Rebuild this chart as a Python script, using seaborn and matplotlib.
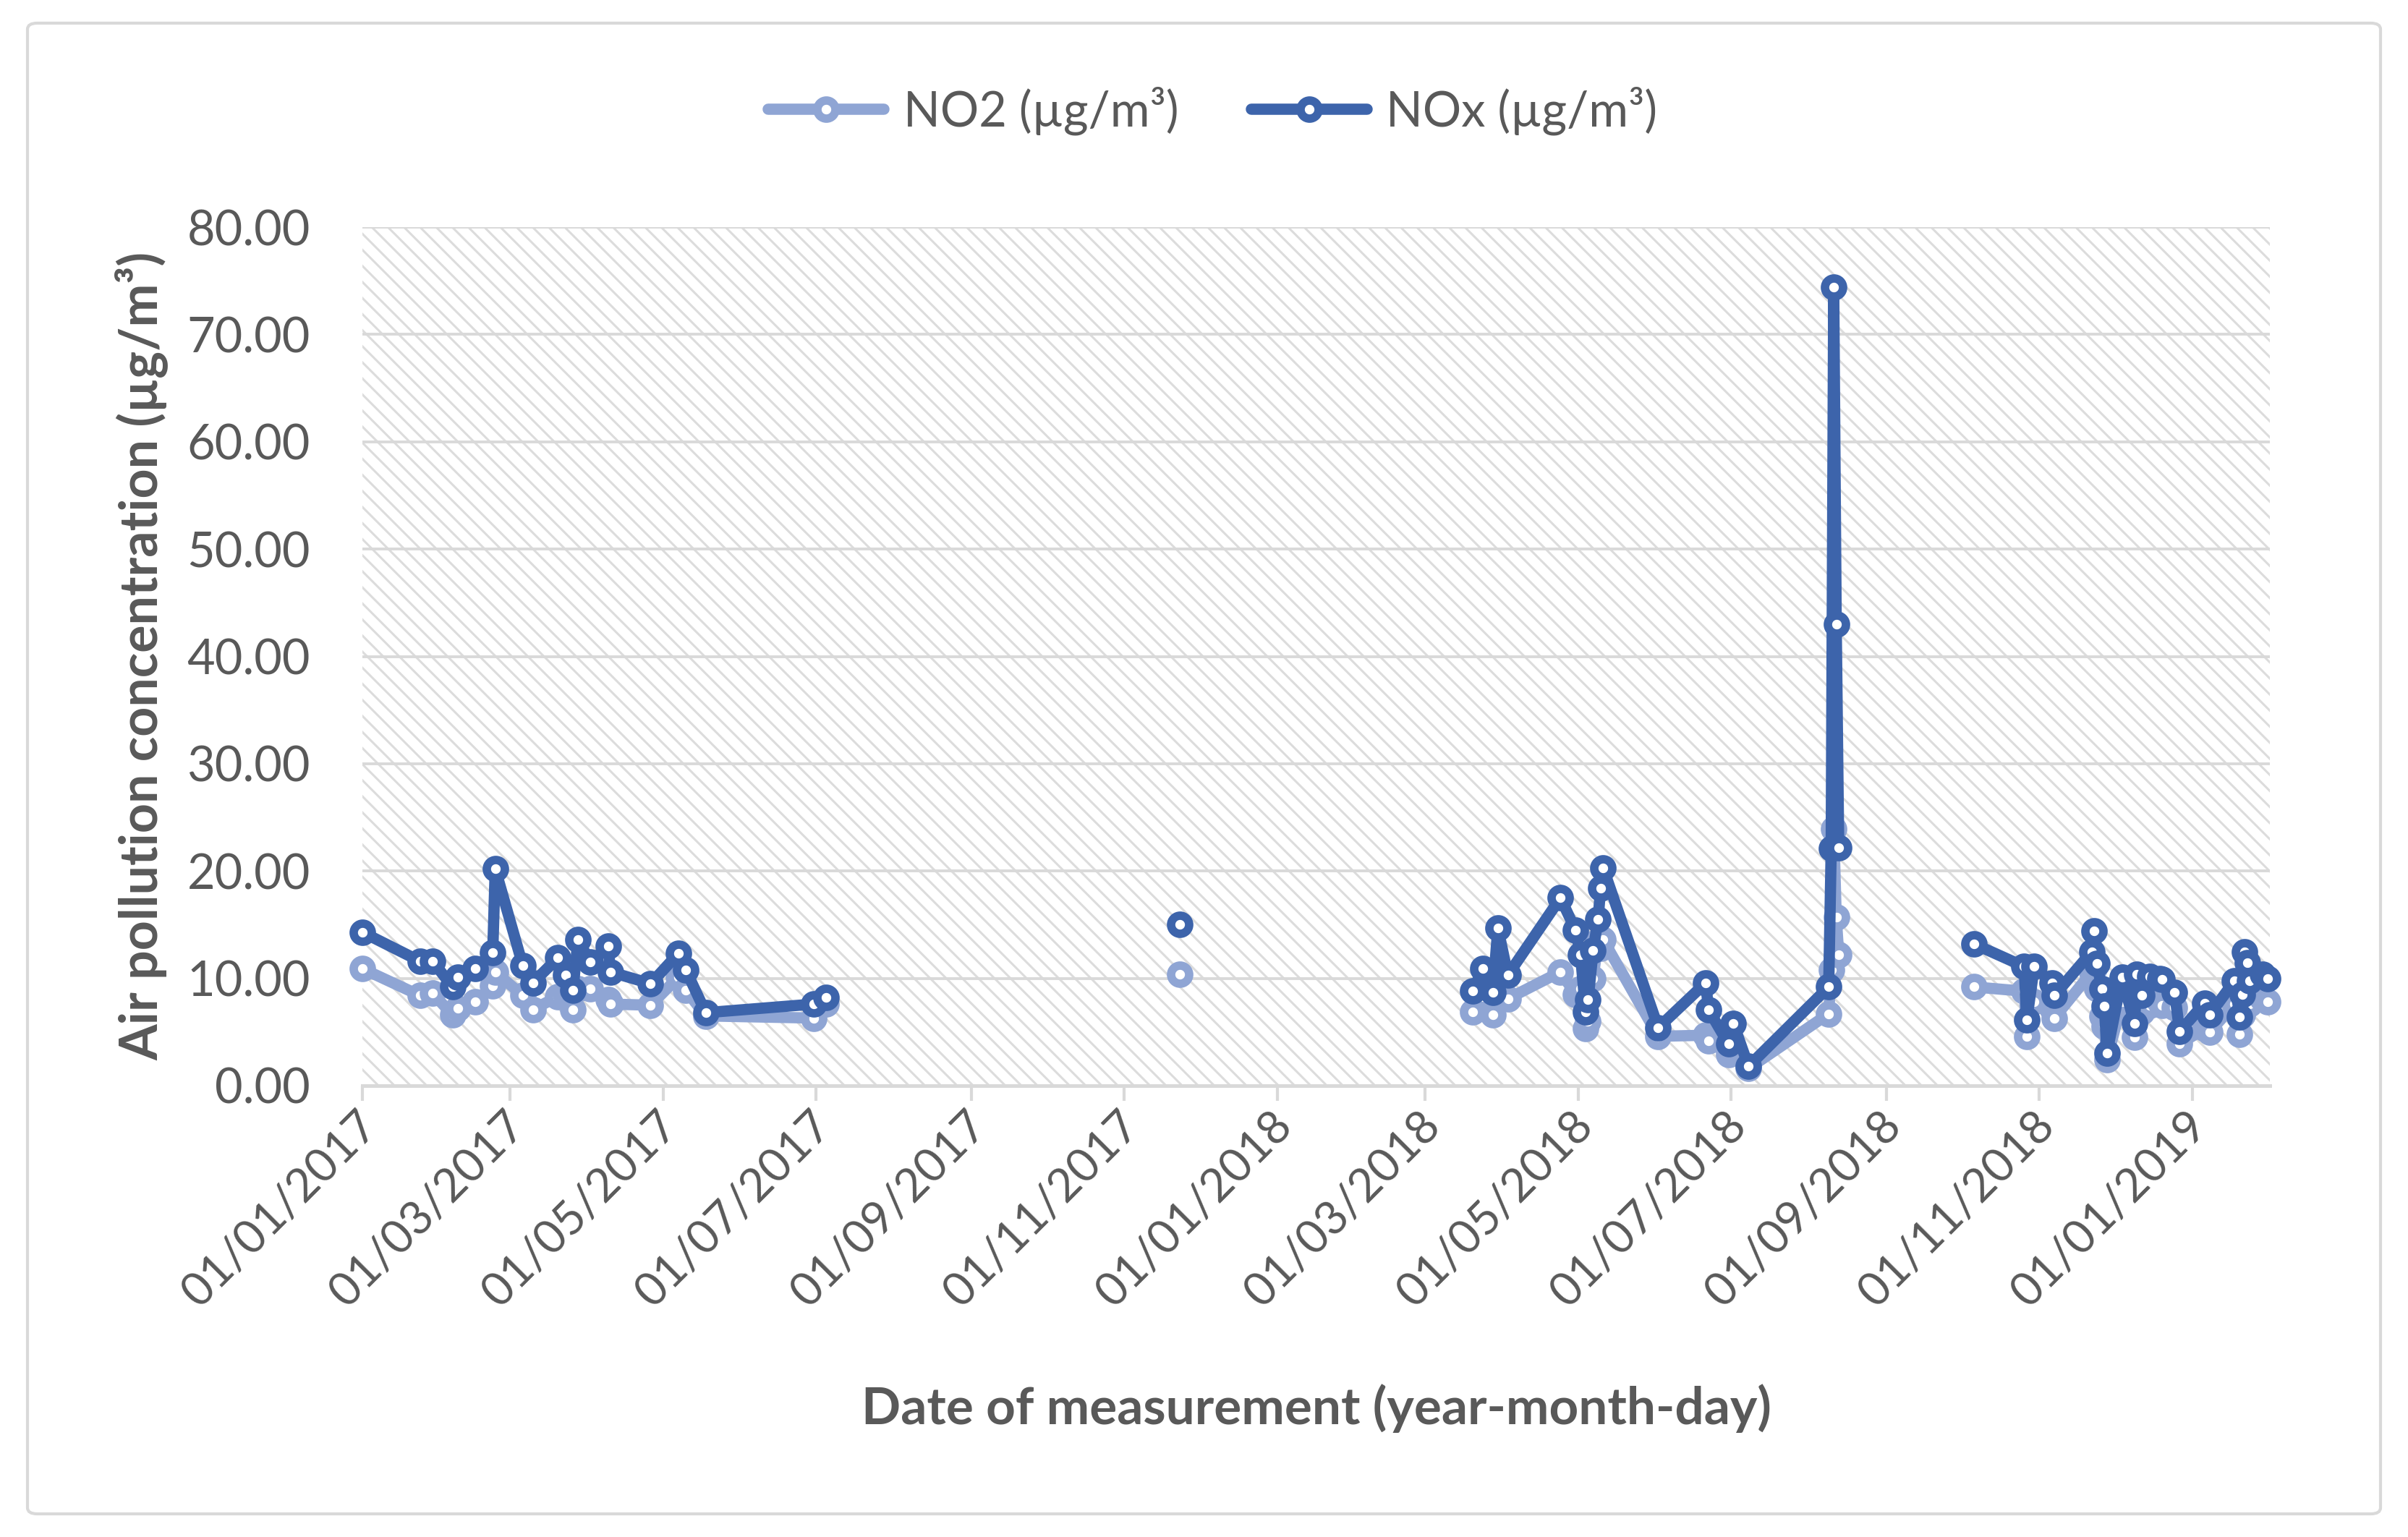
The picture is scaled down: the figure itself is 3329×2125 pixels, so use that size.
import pandas as pd
import matplotlib.pyplot as plt
import matplotlib.dates as mdates
import matplotlib.transforms as mtransforms
from matplotlib.patches import Rectangle, FancyBboxPatch
from matplotlib.ticker import FormatStrFormatter
import seaborn as sns

sns.set_theme(style="white")
plt.rcParams["font.family"] = ["Lato", "DejaVu Sans"]
plt.rcParams["hatch.color"] = "#dcdcdc"
plt.rcParams["hatch.linewidth"] = 1.1

# ---------------- data ----------------
# segment 1: Jan - Jul 2017
dates_2017 = ["2017-01-01", "2017-01-24", "2017-01-29", "2017-02-06", "2017-02-08",
              "2017-02-15", "2017-02-22", "2017-02-23", "2017-03-06", "2017-03-10",
              "2017-03-20", "2017-03-23", "2017-03-26", "2017-03-28", "2017-04-02",
              "2017-04-09", "2017-04-10", "2017-04-26", "2017-05-07", "2017-05-10",
              "2017-05-18", "2017-06-30", "2017-07-05"]
nox_2017 = [14.3, 11.6, 11.6, 9.2, 10.1, 10.9, 12.4, 20.2, 11.2, 9.6, 11.9, 10.3,
            8.9, 13.6, 11.5, 13.0, 10.6, 9.5, 12.3, 10.8, 6.8, 7.6, 8.2]
no2_2017 = [10.9, 8.4, 8.6, 6.6, 7.2, 7.8, 9.3, 10.6, 8.4, 7.1, 8.3, 8.5,
            7.1, 9.0, 9.0, 8.0, 7.6, 7.5, 10.1, 8.9, 6.5, 6.3, 7.6]

# segment 2: single measurement in Nov 2017
dates_nov17 = ["2017-11-23"]
nox_nov17 = [15.0]
no2_nov17 = [10.4]

# segment 3: Mar - Aug 2018
dates_2018a = ["2018-03-20", "2018-03-24", "2018-03-28", "2018-03-30", "2018-04-03",
               "2018-04-24", "2018-04-30", "2018-05-02", "2018-05-04", "2018-05-05",
               "2018-05-07", "2018-05-09", "2018-05-10", "2018-05-11", "2018-06-02",
               "2018-06-21", "2018-06-22", "2018-06-30", "2018-07-02", "2018-07-08",
               "2018-08-09", "2018-08-10", "2018-08-11", "2018-08-12", "2018-08-13"]
nox_2018a = [8.8, 10.9, 8.7, 14.7, 10.3, 17.5, 14.5, 12.2, 6.9, 8.0, 12.6, 15.5,
             18.4, 20.3, 5.4, 9.6, 7.1, 3.9, 5.8, 1.8, 9.2, 22.1, 74.4, 43.0, 22.2]
no2_2018a = [6.9, 8.3, 6.6, 8.5, 8.1, 10.6, 8.5, 9.0, 5.3, 6.0, 10.0, 13.5,
             12.8, 13.6, 4.6, 4.7, 4.2, 2.9, 3.5, 1.6, 6.7, 10.8, 23.9, 15.7, 12.2]

# segment 4: Oct 2018 - Jan 2019
dates_2018b = ["2018-10-06", "2018-10-26", "2018-10-27", "2018-10-30", "2018-11-06",
               "2018-11-07", "2018-11-22", "2018-11-23", "2018-11-24", "2018-11-26",
               "2018-11-27", "2018-11-28", "2018-12-04", "2018-12-09", "2018-12-10",
               "2018-12-12", "2018-12-15", "2018-12-19", "2018-12-20", "2018-12-25",
               "2018-12-27", "2019-01-06", "2019-01-08", "2019-01-18", "2019-01-20",
               "2019-01-21", "2019-01-22", "2019-01-23", "2019-01-24", "2019-01-29",
               "2019-01-31"]
nox_2018b = [13.2, 11.1, 6.1, 11.1, 9.6, 8.4, 12.5, 14.4, 11.4, 9.0, 7.4, 3.05,
             10.1, 5.8, 10.4, 8.4, 10.2, 10.0, 9.9, 8.7, 5.05, 7.7, 6.6, 9.8,
             6.4, 8.5, 12.5, 11.45, 9.8, 10.4, 10.0]
no2_2018b = [9.2, 8.8, 4.6, 7.8, 7.2, 6.3, 10.6, 10.9, 9.0, 6.5, 5.5, 2.4,
             7.8, 4.5, 8.0, 6.9, 7.5, 7.8, 7.5, 7.3, 3.9, 5.3, 5.0, 7.6,
             4.8, 6.6, 9.0, 8.6, 7.6, 8.1, 7.8]

segments = [(dates_2017, no2_2017, nox_2017),
            (dates_nov17, no2_nov17, nox_nov17),
            (dates_2018a, no2_2018a, nox_2018a),
            (dates_2018b, no2_2018b, nox_2018b)]

series_names = ["NO2 (µg/m³)", "NOx (µg/m³)"]
colors = ["#8FA5D4", "#3D64AB"]
tick_dates = pd.date_range("2017-01-01", "2019-01-01", freq="2MS")

rows = []
for seg, (d, no2, nox) in enumerate(segments):
    for day, a, b in zip(d, no2, nox):
        rows.append({"date": pd.Timestamp(day), "value": a, "series": series_names[0], "segment": seg})
        rows.append({"date": pd.Timestamp(day), "value": b, "series": series_names[1], "segment": seg})
df = pd.DataFrame(rows)

# ---------------- figure ----------------
W, H = 3329, 2125
fig = plt.figure(figsize=(W / 200, H / 200), dpi=200)
ax = fig.add_axes([501 / W, 1 - 1501 / H, (3138 - 501) / W, (1501 - 314) / H])

# hatched plot area
ax.set_facecolor("white")
ax.add_patch(Rectangle((0, 0), 1, 1, transform=ax.transAxes, facecolor="white",
                       edgecolor="#dcdcdc", lw=0, hatch="\\\\\\", zorder=0))
ax.set_axisbelow(True)
ax.yaxis.grid(True, color="#d9d9d9", lw=1.4)
ax.xaxis.grid(False)

handles = []
for name, col in zip(series_names, colors):
    n_before = len(ax.lines)
    sns.lineplot(data=df[df["series"] == name], x="date", y="value", units="segment",
                 estimator=None, sort=False, color=col, linewidth=5.6, marker="o",
                 markersize=9.0, markeredgewidth=4.2, markerfacecolor="white",
                 markeredgecolor=col, legend=False, clip_on=False, ax=ax)
    handles.append(ax.lines[n_before])

ax.set_ylim(0, 80)
ax.set_yticks(range(0, 81, 10))
ax.yaxis.set_major_formatter(FormatStrFormatter("%.2f"))
ax.set_xlim(pd.Timestamp("2017-01-01"), pd.Timestamp("2019-02-01"))
ax.set_xticks(tick_dates)
ax.xaxis.set_major_formatter(mdates.DateFormatter("%d/%m/%Y"))

for s in ["top", "left", "right"]:
    ax.spines[s].set_visible(False)
ax.spines["bottom"].set_color("#d9d9d9")
ax.spines["bottom"].set_linewidth(1.8)

ax.tick_params(axis="y", length=0, pad=26, labelsize=24, labelcolor="#595959")
ax.tick_params(axis="x", length=7.5, width=1.5, color="#d9d9d9", direction="out",
               pad=9, labelsize=23, labelcolor="#595959", bottom=True)
shift = mtransforms.ScaledTranslation(4 / 72, 0, fig.dpi_scale_trans)
for lbl in ax.get_xticklabels():
    lbl.set_rotation(45)
    lbl.set_ha("right")
    lbl.set_va("center")
    lbl.set_rotation_mode("anchor")
    lbl.set_transform(lbl.get_transform() + shift)

ax.set_xlabel("Date of measurement (year-month-day)", fontsize=25.6, fontweight="bold",
              color="#595959")
ax.set_ylabel("Air pollution concentration (µg/m³)", fontsize=25.8, fontweight="bold",
              color="#595959")
ax.xaxis.set_label_coords(0.5, (1501 - 1947) / (1501 - 314))
ax.xaxis.label.set_va("center")
ax.yaxis.set_label_coords((195 - 501) / (3138 - 501), 0.5)
ax.yaxis.label.set_va("center")

fig.legend(handles, series_names, loc="center", bbox_to_anchor=(1677 / W, 1 - 153 / H),
           ncol=2, frameon=False, fontsize=24, handlelength=2.4, handletextpad=0.4,
           columnspacing=1.5, labelcolor="#595959", numpoints=1)

# outer chart border
fig.add_artist(FancyBboxPatch((38 / W, 1 - 2093 / H), (3291 - 38) / W, (2093 - 32) / H,
                              boxstyle="round,pad=0,rounding_size=0.004",
                              transform=fig.transFigure, fill=False,
                              edgecolor="#d9d9d9", lw=1.5))

fig.savefig("out.png", dpi=200)
